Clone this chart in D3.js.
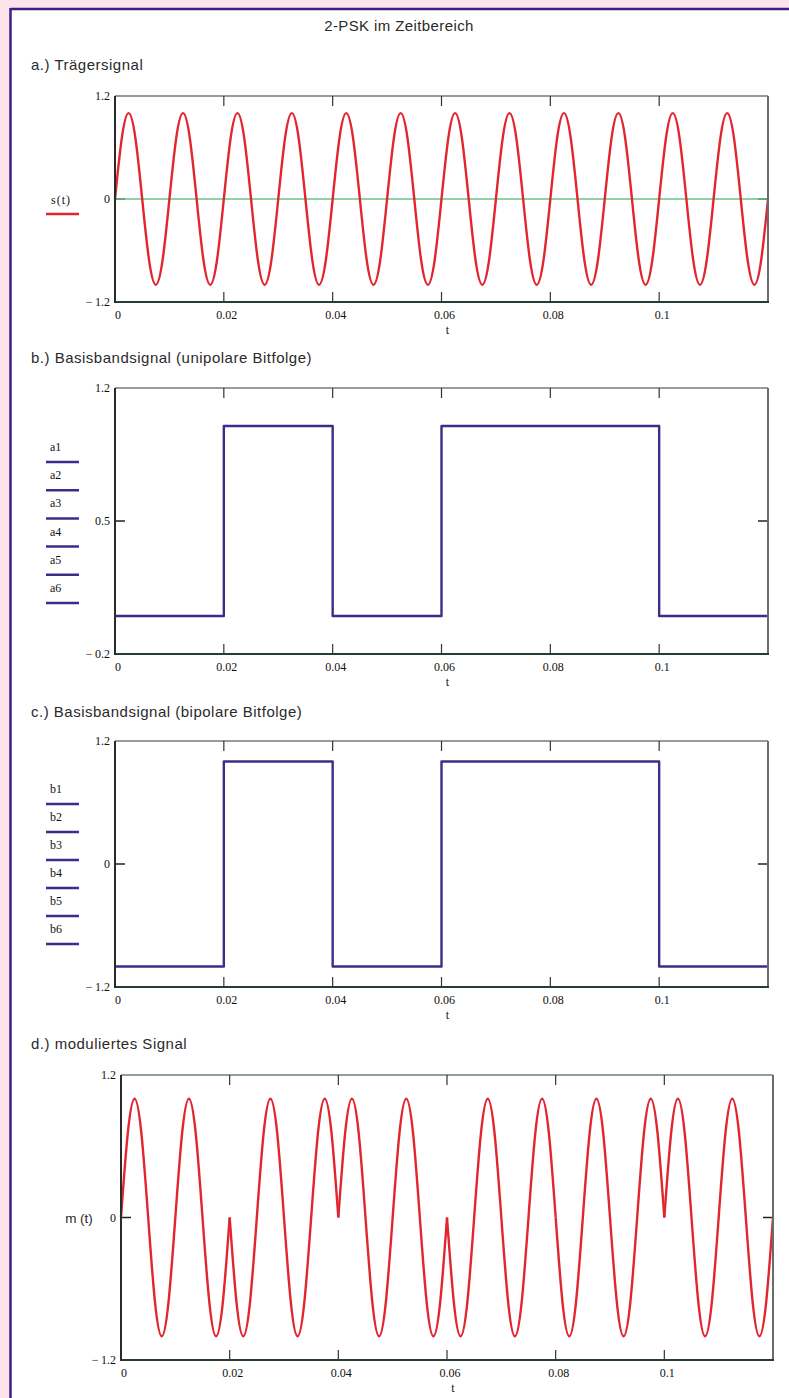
<!DOCTYPE html>
<html>
<head>
<meta charset="utf-8">
<script src="https://cdn.jsdelivr.net/npm/d3@7"></script>
<style>
  body { margin: 0; background: #fde3eb; }
  svg { display: block; }
  .tick-label { font-family: "Liberation Serif", "DejaVu Serif", serif; font-size: 12px; fill: #111; }
  .sans { font-family: "Liberation Sans", Arial, sans-serif; fill: #2a2a2a; }
</style>
</head>
<body>
<div id="chart"></div>
<script>
// values
var bits = [0, 1, 0, 1, 1, 0]
var bitDuration = 0.02
var carrierPeriod = 0.01
// one carrier period, sampled every 1/8 period
var carrierShape = [0, 0.71, 1, 0.71, 0, -0.71, -1, -0.71]
var xTicks = [0, 0.02, 0.04, 0.06, 0.08, 0.1]
var xTickLabels = ["0", "0.02", "0.04", "0.06", "0.08", "0.1"]

var RED = "#e1262f"
var PURPLE = "#3f2b8e"

var width = 789, height = 1398

var svg = d3.select("#chart")
    .append("svg")
    .attr("width", width)
    .attr("height", height)

svg.append("rect").attr("x", 0).attr("y", 0).attr("width", width).attr("height", height).attr("fill", "#fde3eb")
svg.append("rect").attr("x", 11).attr("y", 9).attr("width", width - 11).attr("height", height - 9).attr("fill", "white")
svg.append("line").attr("x1", 10.5).attr("x2", width).attr("y1", 9).attr("y2", 9)
    .attr("stroke", "#3f1f86").attr("stroke-width", 2.5)
svg.append("line").attr("x1", 10.5).attr("x2", 10.5).attr("y1", 8).attr("y2", height)
    .attr("stroke", "#3f1f86").attr("stroke-width", 2.5)

svg.append("text").attr("class", "sans").attr("x", 399).attr("y", 31)
    .attr("text-anchor", "middle").attr("font-size", 15).attr("letter-spacing", 0.4)
    .text("2-PSK im Zeitbereich")

var sections = [
    {text: "a.) Trägersignal", y: 70},
    {text: "b.) Basisbandsignal (unipolare Bitfolge)", y: 363},
    {text: "c.) Basisbandsignal (bipolare Bitfolge)", y: 717},
    {text: "d.) moduliertes Signal", y: 1049}
]
sections.forEach(function(s) {
    svg.append("text").attr("class", "sans").attr("x", 31).attr("y", s.y)
        .attr("font-size", 15).attr("letter-spacing", 0.5).text(s.text)
})

// carrier samples
function carrierPoints(from, to, sign) {
    var step = carrierPeriod / carrierShape.length
    var pts = []
    for (var k = from; k <= to; k++) {
        pts.push({t: k * step, v: sign * carrierShape[k % carrierShape.length]})
    }
    return pts
}
var samplesPerBit = Math.round(bitDuration / (carrierPeriod / carrierShape.length))

function fmt(v) {
    return v < 0 ? "\u2212\u2009" + Math.abs(v) : String(v)
}

function make_panel(opt) {
    var x = d3.scaleLinear().domain([0, 0.12]).range([opt.x0, opt.x1])
    var y = d3.scaleLinear().domain(opt.yDomain).range([opt.y1, opt.y0])
    var g = svg.append("g")

    // ticks on all four sides, pointing in
    xTicks.forEach(function(t, i) {
        g.append("line").attr("x1", x(t)).attr("x2", x(t)).attr("y1", opt.y1).attr("y2", opt.y1 - 10)
            .attr("stroke", "#333").attr("stroke-width", 1.2)
        g.append("line").attr("x1", x(t)).attr("x2", x(t)).attr("y1", opt.y0).attr("y2", opt.y0 + 10)
            .attr("stroke", "#333").attr("stroke-width", 1.2)
        g.append("text").attr("class", "tick-label").attr("x", x(t) + 3).attr("y", opt.y1 + 17)
            .attr("text-anchor", "middle").text(xTickLabels[i])
    })
    g.append("text").attr("class", "tick-label").attr("x", (opt.x0 + opt.x1) / 2 + 6).attr("y", opt.y1 + 32)
        .attr("text-anchor", "middle").text("t")

    opt.yTicks.forEach(function(v) {
        g.append("line").attr("x1", opt.x0).attr("x2", opt.x0 + 10).attr("y1", y(v)).attr("y2", y(v))
            .attr("stroke", "#222").attr("stroke-width", 1.5)
        g.append("line").attr("x1", opt.x1).attr("x2", opt.x1 - 10).attr("y1", y(v)).attr("y2", y(v))
            .attr("stroke", "#222").attr("stroke-width", 1.5)
    })
    opt.yLabels.forEach(function(v) {
        g.append("text").attr("class", "tick-label").attr("x", opt.x0 - 5).attr("y", y(v) + 4)
            .attr("text-anchor", "end").text(fmt(v))
    })

    if (opt.zeroLine) {
        g.append("line").attr("x1", opt.x0).attr("x2", opt.x1).attr("y1", y(0)).attr("y2", y(0))
            .attr("stroke", "#6cc28a").attr("stroke-width", 1.3)
    }

    var line = d3.line().x(function(d) { return x(d.t) }).y(function(d) { return y(d.v) })
    opt.series.forEach(function(s) {
        g.append("path").datum(s.points)
            .attr("d", line.curve(s.curve))
            .attr("fill", "none").attr("stroke", s.color).attr("stroke-width", 2.4)
            .attr("stroke-linejoin", "round")
    })

    // frame
    g.append("line").attr("x1", opt.x0).attr("x2", opt.x1).attr("y1", opt.y0).attr("y2", opt.y0)
        .attr("stroke", "#24402c").attr("stroke-width", 1.2)
    g.append("line").attr("x1", opt.x1).attr("x2", opt.x1).attr("y1", opt.y0).attr("y2", opt.y1)
        .attr("stroke", "#6b6b6b").attr("stroke-width", 2)
    g.append("line").attr("x1", opt.x0).attr("x2", opt.x1 + 1).attr("y1", opt.y1).attr("y2", opt.y1)
        .attr("stroke", "#24402c").attr("stroke-width", 2)
    g.append("line").attr("x1", opt.x0).attr("x2", opt.x0).attr("y1", opt.y0).attr("y2", opt.y1 + 1)
        .attr("stroke", "#2a2a2a").attr("stroke-width", 2)

    return {x: x, y: y}
}

// a.) carrier
make_panel({
    x0: 115, x1: 768, y0: 96, y1: 302,
    yDomain: [-1.2, 1.2], yTicks: [0], yLabels: [1.2, 0, -1.2], zeroLine: true,
    series: [{points: carrierPoints(0, samplesPerBit * bits.length, 1), color: RED, curve: d3.curveNatural}]
})
svg.append("text").attr("class", "tick-label").attr("x", 61).attr("y", 204)
    .attr("text-anchor", "middle").attr("letter-spacing", 1).text("s(t)")
svg.append("line").attr("x1", 46).attr("x2", 79).attr("y1", 214).attr("y2", 214)
    .attr("stroke", RED).attr("stroke-width", 2.5)

// b.) unipolar bits
var unipolar = bits.map(function(a, i) { return {t: i * bitDuration, v: a} })
unipolar.push({t: bits.length * bitDuration, v: bits[bits.length - 1]})
make_panel({
    x0: 115, x1: 768, y0: 388, y1: 654,
    yDomain: [-0.2, 1.2], yTicks: [0.5], yLabels: [1.2, 0.5, -0.2],
    series: [{points: unipolar, color: PURPLE, curve: d3.curveStepAfter}]
})

// c.) bipolar bits
var bipolar = bits.map(function(a, i) { return {t: i * bitDuration, v: 2 * a - 1} })
bipolar.push({t: bits.length * bitDuration, v: 2 * bits[bits.length - 1] - 1})
make_panel({
    x0: 115, x1: 768, y0: 741, y1: 987,
    yDomain: [-1.2, 1.2], yTicks: [0], yLabels: [1.2, 0, -1.2],
    series: [{points: bipolar, color: PURPLE, curve: d3.curveStepAfter}]
})

// legends a1..a6, b1..b6
bits.forEach(function(a, i) {
    svg.append("text").attr("class", "tick-label").attr("x", 50).attr("y", 451 + i * 28.2).text("a" + (i + 1))
    svg.append("line").attr("x1", 46).attr("x2", 79).attr("y1", 462 + i * 28.2).attr("y2", 462 + i * 28.2)
        .attr("stroke", PURPLE).attr("stroke-width", 2.5)
    svg.append("text").attr("class", "tick-label").attr("x", 50).attr("y", 793 + i * 28).text("b" + (i + 1))
    svg.append("line").attr("x1", 46).attr("x2", 79).attr("y1", 804 + i * 28).attr("y2", 804 + i * 28)
        .attr("stroke", PURPLE).attr("stroke-width", 2.5)
})

// d.) modulated: phase jumps by pi where the bit is 1
var modSeries = bits.map(function(a, i) {
    return {
        points: carrierPoints(i * samplesPerBit, (i + 1) * samplesPerBit, a ? -1 : 1),
        color: RED, curve: d3.curveNatural
    }
})
make_panel({
    x0: 121, x1: 773, y0: 1075, y1: 1360,
    yDomain: [-1.2, 1.2], yTicks: [0], yLabels: [1.2, 0, -1.2],
    series: modSeries
})
svg.append("text").attr("class", "sans").attr("x", 79).attr("y", 1223)
    .attr("text-anchor", "middle").attr("font-size", 13.5).attr("fill", "#333").text("m (t)")
</script>
</body>
</html>
